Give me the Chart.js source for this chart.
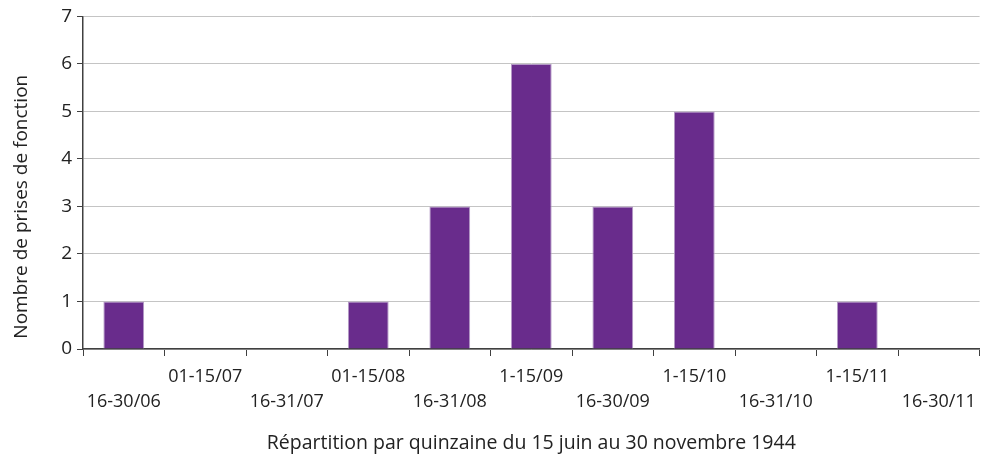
<!DOCTYPE html>
<html>
<head>
<meta charset="utf-8">
<script src="https://cdn.jsdelivr.net/npm/chart.js@4/dist/chart.umd.min.js"></script>
<style>
  html, body { margin: 0; padding: 0; background: #fff; }
  #wrap { width: 985px; height: 459px; }
</style>
</head>
<body>
<div id="wrap"><canvas id="chart" width="985" height="459"></canvas></div>
<script>
// Fortnights from 15 June to 30 November 1944
const periods = ['16-30/06', '01-15/07', '16-31/07', '01-15/08', '16-31/08', '1-15/09',
                 '16-30/09', '1-15/10', '16-31/10', '1-15/11', '16-30/11'];
const counts = [1, 0, 0, 1, 3, 6, 3, 5, 0, 1, 0];
const yMax = 7;
const xTitle = 'Répartition par quinzaine du 15 juin au 30 novembre 1944';
const yTitle = 'Nombre de prises de fonction';

const fontFamily = 'Open Sans, Noto Sans, sans-serif';

// staggered labels: even index on the lower row, odd index on the upper row
const labels = periods.map((p, i) => i % 2 === 0 ? ['', p] : [p, '']);

// y title sits a little below the middle of the plot, like in the original
const yTitlePlugin = {
    id: 'yTitle',
    afterDraw(chart) {
        const { ctx, chartArea } = chart;
        ctx.save();
        ctx.translate(22, (chartArea.top + chartArea.bottom) / 2 + 24);
        ctx.rotate(-Math.PI / 2);
        ctx.font = '19px ' + fontFamily;
        ctx.fillStyle = '#222';
        ctx.textAlign = 'center';
        ctx.textBaseline = 'middle';
        ctx.fillText(yTitle, 0, 0);
        ctx.restore();
    }
};

new Chart(document.getElementById('chart'), {
    type: 'bar',
    data: {
        labels,
        datasets: [{
            data: counts,
            backgroundColor: '#692c8c',
            borderColor: '#b49ac6',
            borderWidth: 1,
            barPercentage: 0.5,
            categoryPercentage: 1
        }]
    },
    options: {
        responsive: false,
        animation: false,
        layout: { padding: { top: 8, right: 2, left: 4, bottom: 4 } },
        plugins: {
            legend: { display: false },
            tooltip: { enabled: false }
        },
        scales: {
            x: {
                afterFit: (scale) => { scale.height = 106; },
                grid: {
                    offset: true,
                    drawOnChartArea: false,
                    drawTicks: true,
                    tickLength: 7,
                    color: '#404040'
                },
                border: { color: '#404040', width: 1.5 },
                ticks: {
                    autoSkip: false,
                    maxRotation: 0,
                    minRotation: 0,
                    color: '#222',
                    padding: 9,
                    font: { family: fontFamily, size: 18, lineHeight: 1.35 }
                },
                title: {
                    display: true,
                    text: xTitle,
                    color: '#222',
                    font: { family: fontFamily, size: 19.5 },
                    padding: { top: 0, bottom: 0 }
                }
            },
            y: {
                afterFit: (scale) => { scale.width = 79; },
                min: 0,
                max: yMax,
                grid: {
                    color: '#c4c4c4',
                    tickLength: 6,
                    tickColor: '#404040'
                },
                border: { color: '#404040', width: 1.5 },
                ticks: {
                    stepSize: 1,
                    color: '#222',
                    padding: 5,
                    font: { family: fontFamily, size: 19 }
                },
                title: { display: false }
            }
        }
    },
    plugins: [yTitlePlugin]
});
</script>
</body>
</html>
